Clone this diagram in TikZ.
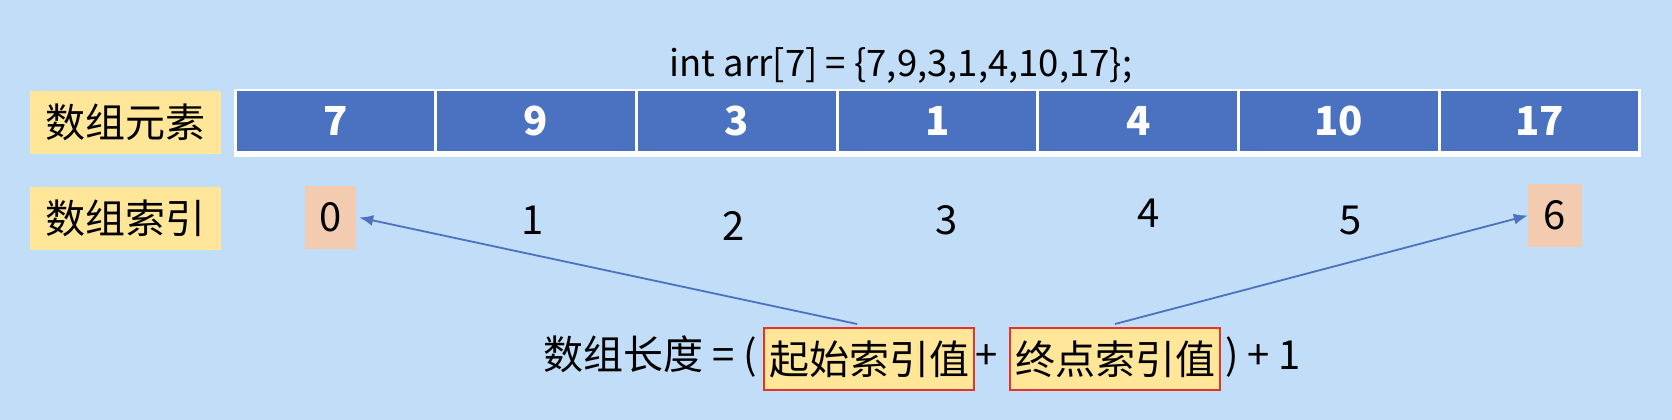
\documentclass[tikz,border=0pt]{standalone}
\usepackage{fontspec}
\setmainfont{Noto Sans CJK SC}
\usetikzlibrary{arrows.meta,positioning}
\definecolor{bgblue}{HTML}{C1DDF7}
\definecolor{cellblue}{HTML}{4A72C0}
\definecolor{labelyellow}{HTML}{FFE699}
\definecolor{idxpeach}{HTML}{F2CBB0}
\definecolor{termred}{HTML}{E3332A}
\newcommand{\bigtext}{\fontsize{40}{46}\selectfont}

\begin{document}
\begin{tikzpicture}[x=1pt,y=-1pt,
  lbl/.style={fill=labelyellow, minimum width=191pt, minimum height=63pt, inner sep=0pt, font=\bigtext},
  cell/.style={fill=cellblue, text=white, minimum width=197.7pt, minimum height=60pt, inner sep=0pt, font=\bigtext\bfseries},
  idx/.style={inner sep=0pt, font=\bigtext},
  hit/.style={idx, fill=idxpeach, minimum height=63pt},
  term/.style={fill=labelyellow, draw=termred, line width=2pt, minimum width=210pt, minimum height=62pt, inner sep=0pt, font=\bigtext},
  link/.style={draw=cellblue, line width=1.8pt, -{Latex[length=14pt,width=11pt]}}]
% background
\fill[bgblue] (0,0) rectangle (1672,420);
\useasboundingbox (0,0) rectangle (1672,420);

% declaration
\node[font=\fontsize{36.5}{42}\selectfont, inner sep=0pt] (decl) at (901,66) {int arr[7] = \{7,9,3,1,4,10,17\};};

% row labels
\node[lbl] (lblelem) at (125.5,122) {数组元素};
\node[lbl] (lblidx) at (125.5,218.5) {数组索引};

% array cells
\fill[white] (234,89) rectangle (1641,157);
\node[cell] (c0) at (335.4,121) {7};
\node[cell] (c1) at (536.1,121) {9};
\node[cell] (c2) at (736.8,121) {3};
\node[cell] (c3) at (937.5,121) {1};
\node[cell] (c4) at (1138.2,121) {4};
\node[cell] (c5) at (1338.9,121) {10};
\node[cell] (c6) at (1539.6,121) {17};

% indices
\node[hit, minimum width=51pt] (i0) at (330.5,217.5) {0};
\node[idx] (i1) at (533,220) {1};
\node[idx] (i2) at (734,226) {2};
\node[idx] (i3) at (947,220) {3};
\node[idx] (i4) at (1149,213) {4};
\node[idx] (i5) at (1351,220) {5};
\node[hit, minimum width=54pt] (i6) at (1555,215.5) {6};

% formula
\node[idx, anchor=east] (flen) at (757,357) {数组长度 = (};
\node[term] (tstart) at (869,359) {起始索引值\hspace{10pt}};
\node[idx] (fplus) at (987,357) {+};
\node[term] (tend) at (1115,359) {终点索引值\hspace{10pt}};
\node[idx, anchor=west] (fone) at (1225,357) {) + 1};

% arrows
\draw[link] ([xshift=-12pt,yshift=3pt]tstart.north) -- ([xshift=3pt]i0.east);
\draw[link] ([yshift=3pt]tend.north) -- (i6.west);

\end{tikzpicture}
\end{document}
